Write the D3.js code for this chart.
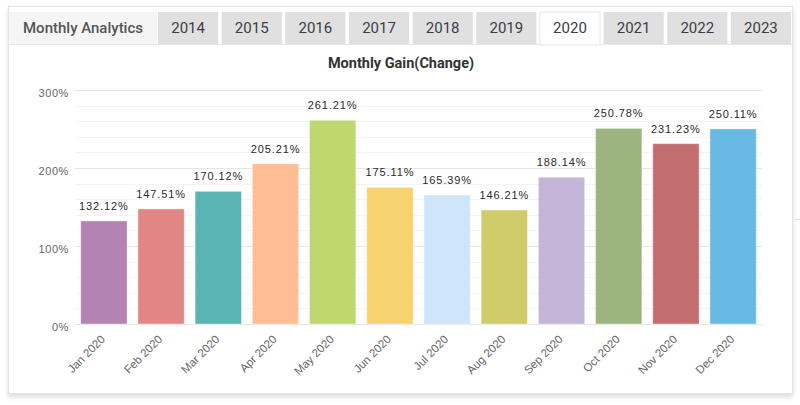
<!DOCTYPE html>
<html>
<head>
<meta charset="utf-8">
<script src="https://cdn.jsdelivr.net/npm/d3@7"></script>
<style>
  html, body { margin: 0; padding: 0; background: #fff; }
  svg { display: block; }
</style>
</head>
<body>
<svg id="chart" width="800" height="405"></svg>
<script>
// data
const months = ["Jan 2020", "Feb 2020", "Mar 2020", "Apr 2020", "May 2020", "Jun 2020",
  "Jul 2020", "Aug 2020", "Sep 2020", "Oct 2020", "Nov 2020", "Dec 2020"];
const gains = [132.12, 147.51, 170.12, 205.21, 261.21, 175.11, 165.39, 146.21, 188.14, 250.78, 231.23, 250.11];
const barColors = ["#b384b3", "#e08684", "#5ab4b3", "#ffbd94", "#bfd76f", "#f6d36f",
  "#cfe5f8", "#cfcc6c", "#c5b5d8", "#9cb580", "#c46d70", "#69b9e5"];
const years = ["2014", "2015", "2016", "2017", "2018", "2019", "2020", "2021", "2022", "2023"];
const activeYear = "2020";
const yTicks = [0, 100, 200, 300];
const yMinorTicks = d3.range(0, 301, 20);

const svg = d3.select("#chart");

// panel with shadow
const defs = svg.append("defs");
const shadow = defs.append("filter").attr("id", "shadow")
  .attr("x", "-5%").attr("y", "-5%").attr("width", "110%").attr("height", "115%");
shadow.append("feDropShadow").attr("dx", 0).attr("dy", 3).attr("stdDeviation", 2.5)
  .attr("flood-color", "#9a9ab8").attr("flood-opacity", 0.35);

svg.append("rect")
  .attr("x", 8.5).attr("y", 6.5).attr("width", 784).attr("height", 387)
  .attr("fill", "#fff").attr("stroke", "#e4e4e4").attr("filter", "url(#shadow)");

// small line outside on the right
svg.append("line").attr("x1", 793).attr("x2", 800).attr("y1", 219.5).attr("y2", 219.5)
  .attr("stroke", "#e4e4e4");

// tab header
svg.append("rect").attr("x", 9).attr("y", 12).attr("width", 148).attr("height", 32).attr("fill", "#f5f5f5");
svg.append("text").attr("x", 83).attr("y", 33).attr("text-anchor", "middle")
  .style("font-family", "Roboto, sans-serif").style("font-size", "15px").style("font-weight", 500)
  .attr("fill", "#555").text("Monthly Analytics");

const tabX = d3.scaleBand().domain(years).range([158, 791]).paddingInner(0.055).paddingOuter(0);
svg.append("line").attr("x1", 9).attr("x2", 792).attr("y1", 44.5).attr("y2", 44.5).attr("stroke", "#e8e8e8");

const tabs = svg.append("g").selectAll("g").data(years).join("g")
  .attr("transform", d => `translate(${tabX(d)},12)`);
tabs.append("rect")
  .attr("width", tabX.bandwidth()).attr("height", d => d === activeYear ? 33 : 32)
  .attr("fill", d => d === activeYear ? "#fff" : "#e0e0e0")
  .attr("stroke", d => d === activeYear ? "#e6e6e6" : "none");
tabs.append("text")
  .attr("x", tabX.bandwidth() / 2).attr("y", 21).attr("text-anchor", "middle")
  .style("font-family", "Roboto, sans-serif").style("font-size", "15px")
  .attr("fill", "#3c3c48").text(d => d);

// chart
svg.append("text").attr("x", 401).attr("y", 68).attr("text-anchor", "middle")
  .style("font-family", "Roboto, 'Liberation Sans', sans-serif").style("font-size", "14.5px").style("font-weight", "bold")
  .attr("fill", "#333").text("Monthly Gain(Change)");

const margin = { left: 75, right: 762, top: 90, bottom: 324 };
const x = d3.scaleBand().domain(months).range([margin.left, margin.right]).paddingInner(0.19).paddingOuter(0.1);
const y = d3.scaleLinear().domain([0, 300]).range([margin.bottom, margin.top]);

const grid = svg.append("g");
grid.selectAll("line.minor").data(yMinorTicks.filter(d => d % 100 !== 0)).join("line")
  .attr("class", "minor")
  .attr("x1", margin.left).attr("x2", margin.right)
  .attr("y1", d => Math.round(y(d)) + 0.5).attr("y2", d => Math.round(y(d)) + 0.5)
  .attr("stroke", "#f4f4f4");
grid.selectAll("line.major").data(yTicks).join("line")
  .attr("class", "major")
  .attr("x1", margin.left).attr("x2", margin.right)
  .attr("y1", d => Math.round(y(d)) + 0.5).attr("y2", d => Math.round(y(d)) + 0.5)
  .attr("stroke", "#e6e6e6");

const yAxis = d3.axisLeft(y).tickValues(yTicks).tickSize(0).tickPadding(6).tickFormat(d => d + "%");
svg.append("g").attr("transform", `translate(${margin.left},0)`).call(yAxis)
  .call(g => g.select(".domain").remove())
  .call(g => g.selectAll("text")
    .attr("dy", "0.6em")
    .style("font-family", "'Liberation Sans', Arial, sans-serif").style("font-size", "11px")
    .style("letter-spacing", "0.6px")
    .attr("fill", "#666"));

svg.append("g").selectAll("rect").data(gains).join("rect")
  .attr("x", (d, i) => x(months[i]))
  .attr("y", d => y(d))
  .attr("width", x.bandwidth())
  .attr("height", d => y(0) - y(d))
  .attr("fill", (d, i) => barColors[i])
  .attr("stroke", "rgba(255,255,255,0.4)")
  .attr("stroke-width", 1);

svg.append("g").selectAll("text").data(gains).join("text")
  .attr("x", (d, i) => x(months[i]) + x.bandwidth() / 2)
  .attr("y", d => y(d) - 11)
  .attr("text-anchor", "middle")
  .style("font-family", "'Liberation Sans', Arial, sans-serif").style("font-size", "11px")
  .style("letter-spacing", "0.9px")
  .attr("fill", "#2a2a2a")
  .text(d => d.toFixed(2) + "%");

const xAxis = d3.axisBottom(x).tickSize(0).tickPadding(0);
svg.append("g").attr("transform", `translate(0,${margin.bottom})`).call(xAxis)
  .call(g => g.select(".domain").remove())
  .call(g => g.selectAll("text")
    .attr("text-anchor", "end")
    .attr("dy", 0)
    .attr("transform", "translate(2,16) rotate(-45)")
    .style("font-family", "'Liberation Sans', Arial, sans-serif").style("font-size", "11.5px")
    .attr("fill", "#666"));
</script>
</body>
</html>
